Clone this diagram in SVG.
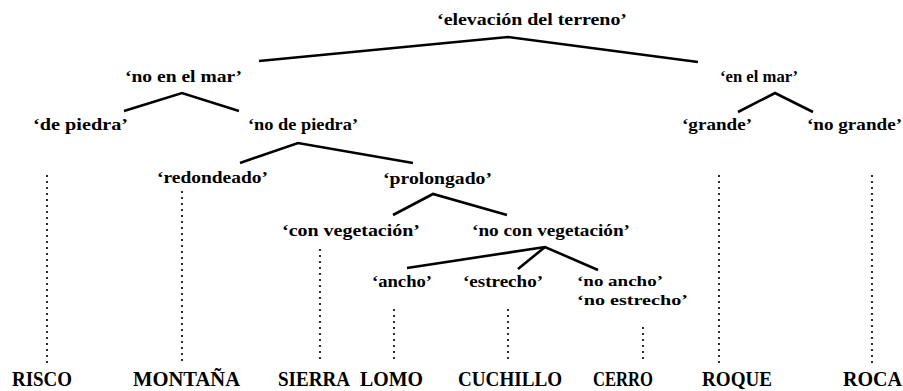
<svg xmlns="http://www.w3.org/2000/svg" width="903" height="391" viewBox="0 0 903 391">
<style>
.n{font-family:"Liberation Serif","Times New Roman",serif;font-size:17px;font-weight:bold;fill:#000}
.s{font-size:15.5px}
.w{font-family:"Liberation Serif","Times New Roman",serif;font-size:20px;font-weight:bold;fill:#000}
.e{fill:none;stroke:#000;stroke-width:2.6;stroke-linejoin:miter}
.d{fill:none;stroke:#000;stroke-width:2.2;stroke-linecap:round;stroke-dasharray:0 6}
</style>
<rect width="903" height="391" fill="#fff"/>
<g id="connectors">
<path class="e" d="M259,61 L508,37 L698,62"/>
<path class="e" d="M124,111 L182,93 L239,111"/>
<path class="e" d="M738,112 L775,93 L813,112"/>
<path class="e" d="M240,163 L298,143 L413,163"/>
<path class="e" d="M393,215 L433,194 L507,215"/>
<path class="e" d="M407,268 L545,247 L598,270"/>
<path class="e" d="M545,247 L518,269"/>
<path class="d" d="M47,176 L47,363"/>
<path class="d" d="M182,192 L182,363"/>
<path class="d" d="M320,250 L320,363"/>
<path class="d" d="M394,310 L394,363"/>
<path class="d" d="M508,310 L508,363"/>
<path class="d" d="M643,328 L643,363"/>
<path class="d" d="M719,176 L719,363"/>
<path class="d" d="M872,176 L872,363"/>
</g>
<g id="n-elevacion"><text class="n" x="437" y="25" textLength="190" lengthAdjust="spacingAndGlyphs">‘elevación del terreno’</text></g>
<g id="n-no-en-el-mar"><text class="n" x="125" y="82" textLength="117" lengthAdjust="spacingAndGlyphs">‘no en el mar’</text></g>
<g id="n-en-el-mar"><text class="n" x="720" y="82" textLength="78" lengthAdjust="spacingAndGlyphs">‘en el mar’</text></g>
<g id="n-de-piedra"><text class="n" x="33" y="130" textLength="95" lengthAdjust="spacingAndGlyphs">‘de piedra’</text></g>
<g id="n-no-de-piedra"><text class="n" x="248" y="130" textLength="110" lengthAdjust="spacingAndGlyphs">‘no de piedra’</text></g>
<g id="n-grande"><text class="n" x="682" y="130" textLength="70" lengthAdjust="spacingAndGlyphs">‘grande’</text></g>
<g id="n-no-grande"><text class="n" x="807" y="130" textLength="95" lengthAdjust="spacingAndGlyphs">‘no grande’</text></g>
<g id="n-redondeado"><text class="n" x="157" y="183" textLength="111" lengthAdjust="spacingAndGlyphs">‘redondeado’</text></g>
<g id="n-prolongado"><text class="n" x="383" y="184" textLength="109" lengthAdjust="spacingAndGlyphs">‘prolongado’</text></g>
<g id="n-con-vegetacion"><text class="n" x="282" y="236" textLength="138" lengthAdjust="spacingAndGlyphs">‘con vegetación’</text></g>
<g id="n-no-con-vegetacion"><text class="n" x="472" y="236" textLength="158" lengthAdjust="spacingAndGlyphs">‘no con vegetación’</text></g>
<g id="n-ancho"><text class="n" x="372" y="287" textLength="60" lengthAdjust="spacingAndGlyphs">‘ancho’</text></g>
<g id="n-estrecho"><text class="n" x="463" y="287" textLength="80" lengthAdjust="spacingAndGlyphs">‘estrecho’</text></g>
<g id="n-no-ancho-no-estrecho"><text class="n s" x="577" y="286" textLength="86" lengthAdjust="spacingAndGlyphs">‘no ancho’</text><text class="n s" x="577" y="305" textLength="111" lengthAdjust="spacingAndGlyphs">‘no estrecho’</text></g>
<g id="w-risco"><text class="w" x="12" y="386" textLength="60" lengthAdjust="spacingAndGlyphs">RISCO</text></g>
<g id="w-montana"><text class="w" x="133" y="386" textLength="107" lengthAdjust="spacingAndGlyphs">MONTAÑA</text></g>
<g id="w-sierra"><text class="w" x="278" y="386" textLength="72" lengthAdjust="spacingAndGlyphs">SIERRA</text></g>
<g id="w-lomo"><text class="w" x="360" y="386" textLength="63" lengthAdjust="spacingAndGlyphs">LOMO</text></g>
<g id="w-cuchillo"><text class="w" x="458" y="386" textLength="104" lengthAdjust="spacingAndGlyphs">CUCHILLO</text></g>
<g id="w-cerro"><text class="w" x="593" y="386" textLength="60" lengthAdjust="spacingAndGlyphs">CERRO</text></g>
<g id="w-roque"><text class="w" x="702" y="386" textLength="70" lengthAdjust="spacingAndGlyphs">ROQUE</text></g>
<g id="w-roca"><text class="w" x="843" y="386" textLength="59" lengthAdjust="spacingAndGlyphs">ROCA</text></g>
</svg>
